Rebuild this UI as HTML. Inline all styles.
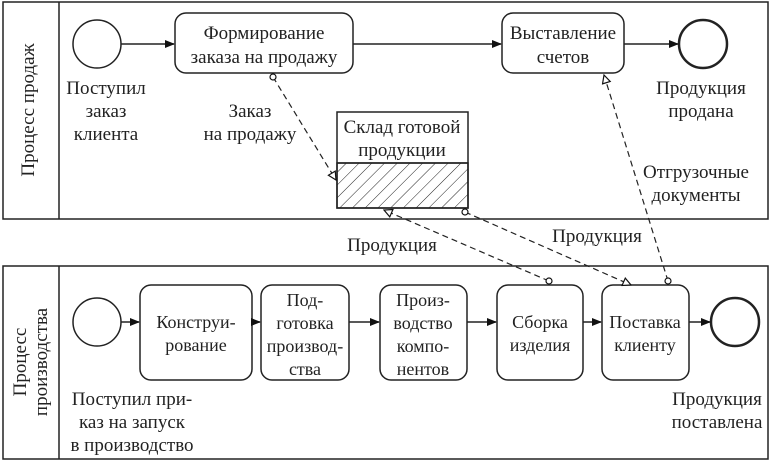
<!DOCTYPE html>
<html><head><meta charset="utf-8"><style>
html,body{margin:0;padding:0;background:#fff;width:771px;height:462px;overflow:hidden}
svg{display:block}
svg text{font-family:"Liberation Serif","DejaVu Serif",serif;font-size:19px;fill:#222}
svg text.s{font-size:18px}
</style></head><body>
<svg width="771" height="462" viewBox="0 0 771 462" xmlns="http://www.w3.org/2000/svg" font-family="Liberation Serif, serif">
<defs>
<marker id="a" markerWidth="10" markerHeight="8" refX="9" refY="4" orient="auto" markerUnits="userSpaceOnUse"><path d="M0,0 L10,4 L0,8 Z" fill="#111"/></marker>
<marker id="o" markerWidth="10" markerHeight="10" refX="9" refY="5" orient="auto" markerUnits="userSpaceOnUse"><path d="M1,1 L9,5 L1,9 Z" fill="#fff" stroke="#111" stroke-width="1.2"/></marker>
<marker id="c" markerWidth="8" markerHeight="8" refX="4" refY="4" markerUnits="userSpaceOnUse"><circle cx="4" cy="4" r="3" fill="#fff" stroke="#111" stroke-width="1.2"/></marker>
<pattern id="h" width="9" height="9" patternUnits="userSpaceOnUse" patternTransform="rotate(45)"><line x1="0" y1="0" x2="0" y2="9" stroke="#222" stroke-width="1"/></pattern>
</defs>
<g fill="none" stroke="#222" stroke-width="1.5">
<rect x="3" y="2" width="765" height="217"/>
<line x1="59" y1="2" x2="59" y2="219"/>
<rect x="3" y="266" width="765" height="193"/>
<line x1="59" y1="266" x2="59" y2="459"/>
<circle cx="97" cy="44" r="24"/>
<rect x="175" y="13" width="178" height="60" rx="11"/>
<rect x="502" y="13" width="122" height="60" rx="11"/>
<circle cx="703" cy="44" r="24" stroke-width="2.5"/>
<line x1="121" y1="44" x2="174" y2="44" marker-end="url(#a)"/>
<line x1="353" y1="44" x2="501" y2="44" marker-end="url(#a)"/>
<line x1="624" y1="44" x2="678" y2="44" marker-end="url(#a)"/>
<rect x="337" y="163" width="131" height="45" fill="url(#h)"/>
<rect x="337" y="112" width="131" height="96"/>
<line x1="337" y1="163" x2="468" y2="163"/>
<circle cx="97" cy="322" r="24"/>
<rect x="140" y="285" width="112" height="95" rx="11"/>
<rect x="261" y="285" width="88" height="95" rx="11"/>
<rect x="380" y="285" width="87" height="95" rx="11"/>
<rect x="497" y="285" width="86" height="95" rx="11"/>
<rect x="602" y="285" width="87" height="95" rx="11"/>
<circle cx="735" cy="322" r="24" stroke-width="2.5"/>
<line x1="121" y1="322" x2="139" y2="322" marker-end="url(#a)"/>
<line x1="252" y1="322" x2="260" y2="322" marker-end="url(#a)"/>
<line x1="349" y1="322" x2="379" y2="322" marker-end="url(#a)"/>
<line x1="467" y1="322" x2="496" y2="322" marker-end="url(#a)"/>
<line x1="583" y1="322" x2="601" y2="322" marker-end="url(#a)"/>
<line x1="689" y1="322" x2="710" y2="322" marker-end="url(#a)"/>
<g stroke-dasharray="6,4" stroke-width="1.2">
<line x1="273" y1="77" x2="336" y2="180" marker-start="url(#c)" marker-end="url(#o)"/>
<line x1="465" y1="212" x2="631" y2="285" marker-start="url(#c)" marker-end="url(#o)"/>
<line x1="549" y1="281" x2="384" y2="210" marker-start="url(#c)" marker-end="url(#o)"/>
<line x1="668" y1="281" x2="604" y2="75" marker-start="url(#c)" marker-end="url(#o)"/>
</g>
</g>
<text transform="translate(34,110) rotate(-90)" text-anchor="middle">Процесс продаж</text>
<text transform="translate(26,362) rotate(-90)" text-anchor="middle">Процесс</text>
<text transform="translate(47,362) rotate(-90)" text-anchor="middle">производства</text>
<g text-anchor="middle">
<text x="264" y="39">Формирование</text><text x="264" y="63">заказа на продажу</text>
<text x="563" y="39">Выставление</text><text x="563" y="63">счетов</text>
<text x="106" y="94">Поступил</text><text x="106" y="117">заказ</text><text x="106" y="140">клиента</text>
<text x="250" y="117">Заказ</text><text x="250" y="140">на продажу</text>
<text x="701" y="94">Продукция</text><text x="701" y="117">продана</text>
<text x="402" y="133">Склад готовой</text><text x="402" y="156">продукции</text>
<text x="696" y="178">Отгрузочные</text><text x="696" y="201">документы</text>
<text x="392" y="251">Продукция</text>
<text x="597" y="242">Продукция</text>
<text class="s" x="196" y="328">Конструи-</text><text class="s" x="196" y="351">рование</text>
<text class="s" x="305" y="306">Под-</text><text class="s" x="305" y="329">готовка</text><text class="s" x="305" y="352">производ-</text><text class="s" x="305" y="375">ства</text>
<text class="s" x="423" y="306">Произ-</text><text class="s" x="423" y="329">водство</text><text class="s" x="423" y="352">компо-</text><text class="s" x="423" y="375">нентов</text>
<text class="s" x="540" y="328">Сборка</text><text class="s" x="540" y="351">изделия</text>
<text class="s" x="645" y="328">Поставка</text><text class="s" x="645" y="351">клиенту</text>
<text x="132" y="405">Поступил при-</text><text x="132" y="428">каз на запуск</text><text x="132" y="451">в производство</text>
<text x="717" y="405">Продукция</text><text x="717" y="428">поставлена</text>
</g>
</svg>
</body></html>
